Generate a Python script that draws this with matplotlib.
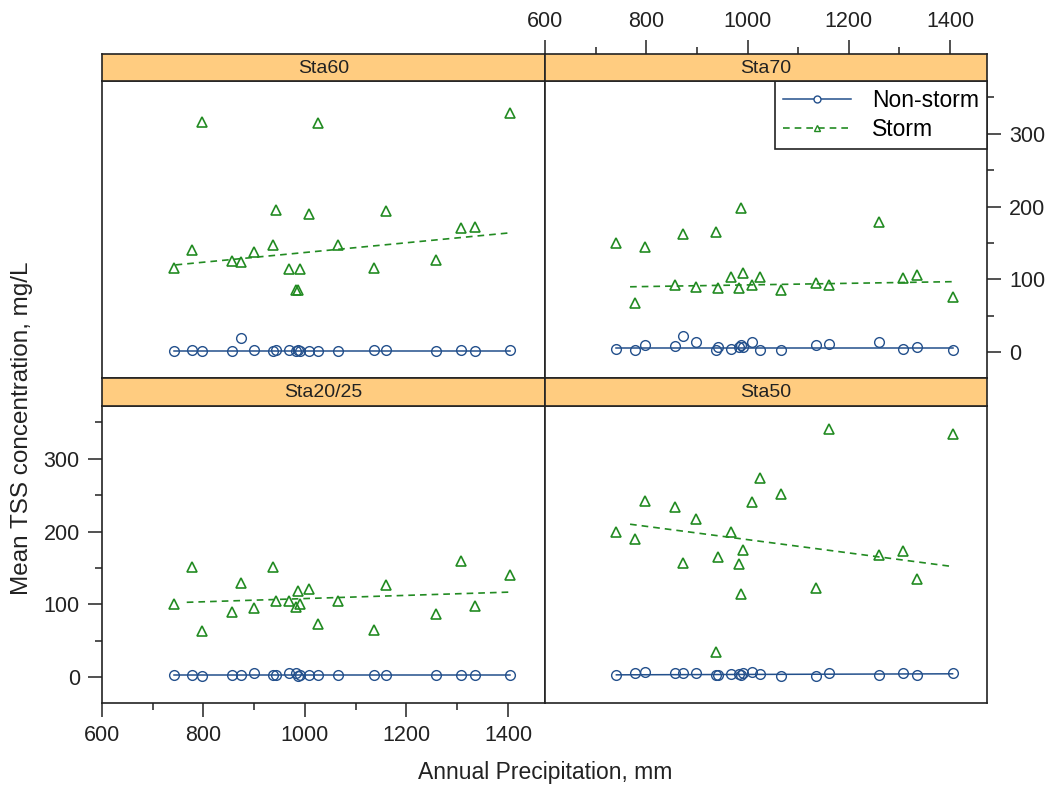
# Mean TSS vs annual precipitation, four stations, storm / non-storm
import matplotlib
matplotlib.use("Agg")
import matplotlib.pyplot as plt
from matplotlib.lines import Line2D

plt.rcParams["font.family"] = ["Liberation Sans", "DejaVu Sans"]

precip = [741, 777, 797, 857, 873, 899, 937, 942, 968, 983, 987, 991,
          1008, 1025, 1066, 1136, 1160, 1259, 1307, 1335, 1405]

sta60_non = [2, 3, 2, 2, 20, 4, 2, 3, 4, 2, 3, 2, 2, 2, 2, 3, 4, 2, 3, 2, 3]
sta60_storm = [116, 140, 316, 126, 124, 137, 147, 195, 114, 85, 86, 114,
               190, 314, 147, 116, 194, 127, 170, 172, 328]
sta70_non = [5, 3, 10, 9, 23, 14, 3, 7, 5, 7, 10, 8, 14, 3, 3, 10, 11, 15, 5, 8, 4]
sta70_storm = [150, 68, 144, 92, 162, 90, 165, 88, 104, 88, 198, 109,
               92, 103, 86, 95, 92, 179, 102, 106, 76]
sta2025_non = [3, 4, 2, 4, 4, 6, 4, 4, 6, 6, 2, 3, 4, 4, 3, 3, 4, 3, 4, 4, 3]
sta2025_storm = [100, 152, 63, 90, 129, 95, 152, 105, 105, 97, 119, 100,
                 121, 73, 105, 65, 127, 87, 159, 98, 140]
sta50_non = [4, 6, 8, 6, 6, 6, 3, 4, 5, 5, 4, 6, 7, 5, 2, 2, 6, 4, 6, 4, 6]
sta50_storm = [199, 190, 242, 233, 157, 217, 35, 165, 199, 155, 115, 175,
               241, 273, 252, 122, 340, 168, 173, 135, 334]

stations = ["Sta60", "Sta70", "Sta20/25", "Sta50"]
non_vals = [sta60_non, sta70_non, sta2025_non, sta50_non]
storm_vals = [sta60_storm, sta70_storm, sta2025_storm, sta50_storm]

# trend lines (value at start / end of each line)
non_fit_x = [741, 1405]
non_fit_start = [1.8, 6, 2.7, 3.6]
non_fit_end = [1.8, 6, 2.7, 5]
storm_fit_x0 = [745, 768, 767, 768]
storm_fit_x1 = 1405
storm_fit_start = [120, 90, 103, 210]
storm_fit_end = [164, 97, 117, 152]

blue = "#23508c"
green = "#228b22"
strip_col = "#ffcc80"
ink = "#222222"

W, H = 1052, 788
fig = plt.figure(figsize=(W / 100, H / 100), dpi=100)

cols = [(102, 545), (545, 987)]
rows = [(54, 81, 378), (378, 406, 703)]

xlim = (600, 1473)
ylim = (-35, 372)


def fa(x0, x1, y0, y1):
    return [x0 / W, 1 - y1 / H, (x1 - x0) / W, (y1 - y0) / H]


for i, name in enumerate(stations):
    r, c = divmod(i, 2)
    x0, x1 = cols[c]
    s_top, p_top, p_bot = rows[r]
    ax = fig.add_axes(fa(x0, x1, p_top, p_bot))
    st = fig.add_axes(fa(x0, x1, s_top, p_top))

    st.set_facecolor(strip_col)
    st.set_xticks([])
    st.set_yticks([])
    st.text(0.5, 0.47, name, ha="center", va="center", fontsize=14, color=ink,
            transform=st.transAxes)

    ax.plot(non_fit_x, [non_fit_start[i], non_fit_end[i]], color=blue, lw=1.1)
    ax.plot([storm_fit_x0[i], storm_fit_x1], [storm_fit_start[i], storm_fit_end[i]],
            color=green, lw=1.2, ls=(0, (4, 3)))

    ax.plot(precip, non_vals[i], ls="none", marker="o", mfc="none", mec=blue, ms=7, mew=1.0)
    ax.plot(precip, storm_vals[i], ls="none", marker="^", mfc="none", mec=green, ms=7, mew=1.2)

    ax.set_xlim(xlim)
    ax.set_ylim(ylim)
    st.set_xlim(xlim)
    for a in (ax, st):
        for sp in a.spines.values():
            sp.set_linewidth(1.2)
            sp.set_color(ink)

    ax.set_xticks([600, 800, 1000, 1200, 1400])
    ax.set_xticks([700, 900, 1100, 1300], minor=True)
    ax.set_yticks([0, 100, 200, 300])
    ax.set_yticks([50, 150, 250, 350], minor=True)
    ax.tick_params(which="both", direction="out", width=1.1, labelsize=15.5, colors=ink,
                   bottom=False, top=False, left=False, right=False,
                   labelbottom=False, labelleft=False, pad=6)
    ax.tick_params(which="major", length=10)
    ax.tick_params(which="minor", length=5)

    if r == 1 and c == 0:
        ax.tick_params(which="both", bottom=True, labelbottom=True, left=True, labelleft=True)
    if r == 0 and c == 1:
        ax.tick_params(which="both", right=True, labelright=True)
        st.set_xticks([600, 800, 1000, 1200, 1400])
        st.set_xticks([700, 900, 1100, 1300], minor=True)
        st.tick_params(which="both", top=True, labeltop=True, bottom=False, labelbottom=False,
                       direction="out", width=1.1, labelsize=15.5, colors=ink, pad=6)
        st.tick_params(which="major", length=10)
        st.tick_params(which="minor", length=5)

    if name == "Sta70":
        h1 = Line2D([], [], color=blue, lw=1.1, marker="o", mfc="white", mec=blue, ms=5)
        h2 = Line2D([], [], color=green, lw=1.2, ls=(0, (4, 3)), marker="^", mfc="white",
                    mec=green, ms=5)
        leg = ax.legend([h1, h2], ["Non-storm", "Storm"], loc="upper right",
                        borderaxespad=0, fancybox=False, framealpha=1, edgecolor=ink,
                        fontsize=16.5, handlelength=3.0, handletextpad=0.9,
                        labelspacing=0.25, borderpad=0.35)
        leg.get_frame().set_linewidth(1.2)

fig.text(545 / W, 1 - 772 / H, "Annual Precipitation, mm", ha="center", va="center",
         fontsize=16.5, color=ink)
fig.text(22 / W, 1 - 428 / H, "Mean TSS concentration, mg/L", ha="center", va="center",
         rotation=90, fontsize=17.5, color=ink)

fig.savefig("out.png", dpi=100)
